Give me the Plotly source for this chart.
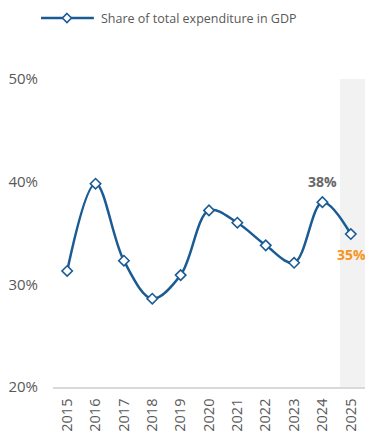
import plotly.graph_objects as go

years = ["2015", "2016", "2017", "2018", "2019", "2020", "2021", "2022", "2023", "2024", "2025"]
share = [31.3, 39.8, 32.3, 28.6, 30.9, 37.2, 36.0, 33.8, 32.1, 38.0, 34.9]
y_ticks = [20, 30, 40, 50]
y_labels = ["20%", "30%", "40%", "50%"]
series_name = "Share of total expenditure in GDP"

blue = "#1b5b94"
font = "Open Sans"

fig = go.Figure()
fig.add_trace(go.Scatter(
    x=years, y=share, mode="lines+markers", name=series_name,
    line=dict(color=blue, width=2.5, shape="spline", smoothing=1.0),
    marker=dict(symbol="diamond", size=8, color="white", line=dict(color=blue, width=1.6)),
    showlegend=False, cliponaxis=False,
))

# forecast band
fig.add_shape(type="rect", xref="x", yref="y", x0=9.62, x1=10.5, y0=20, y1=50,
              fillcolor="#f2f2f2", line=dict(width=0), layer="below")

# custom legend
L, W, T, H = 53, 313, 79, 308
def px(x):
    return (x - L) / W
def py(y):
    return (T + H - y) / H
fig.add_shape(type="line", xref="paper", yref="paper", x0=px(41), x1=px(94), y0=py(18), y1=py(18),
              line=dict(color=blue, width=2.5))
fig.add_shape(type="path", xref="paper", yref="paper",
              path=f"M {px(67)},{py(13.5)} L {px(71.5)},{py(18)} L {px(67)},{py(22.5)} L {px(62.5)},{py(18)} Z",
              fillcolor="white", line=dict(color=blue, width=1.6))
fig.add_annotation(xref="paper", yref="paper", x=px(99), y=py(18), text=series_name,
                   showarrow=False, xanchor="left", yanchor="middle",
                   font=dict(family=font, size=12.5, color="#595959"))

# value labels
i24 = years.index("2024")
i25 = years.index("2025")
fig.add_annotation(x=i24, y=share[i24], text="<b>38%</b>", showarrow=False, yshift=21,
                   font=dict(family=font, size=14, color="#666666"))
fig.add_annotation(x=i25, y=share[i25], text="<b>35%</b>", showarrow=False, yshift=-20, xshift=1,
                   font=dict(family=font, size=14, color="#f7941d"))

fig.update_layout(
    width=365, height=434,
    margin=dict(l=L, r=0, t=T, b=434 - T - H),
    plot_bgcolor="white", paper_bgcolor="white",
    xaxis=dict(type="category", range=[-0.5, 10.5], showgrid=False, showline=True,
               linecolor="#d9d9d9", linewidth=1.5, ticks="", tickangle=-90,
               ticklabelstandoff=4,
               tickfont=dict(family=font, size=14.5, color="#595959")),
    yaxis=dict(range=[20, 50], tickvals=y_ticks, ticktext=y_labels, showgrid=False,
               zeroline=False, showline=False, ticks="", ticklabelstandoff=14,
               tickfont=dict(family=font, size=15, color="#595959")),
)

fig.write_html("out.html")
